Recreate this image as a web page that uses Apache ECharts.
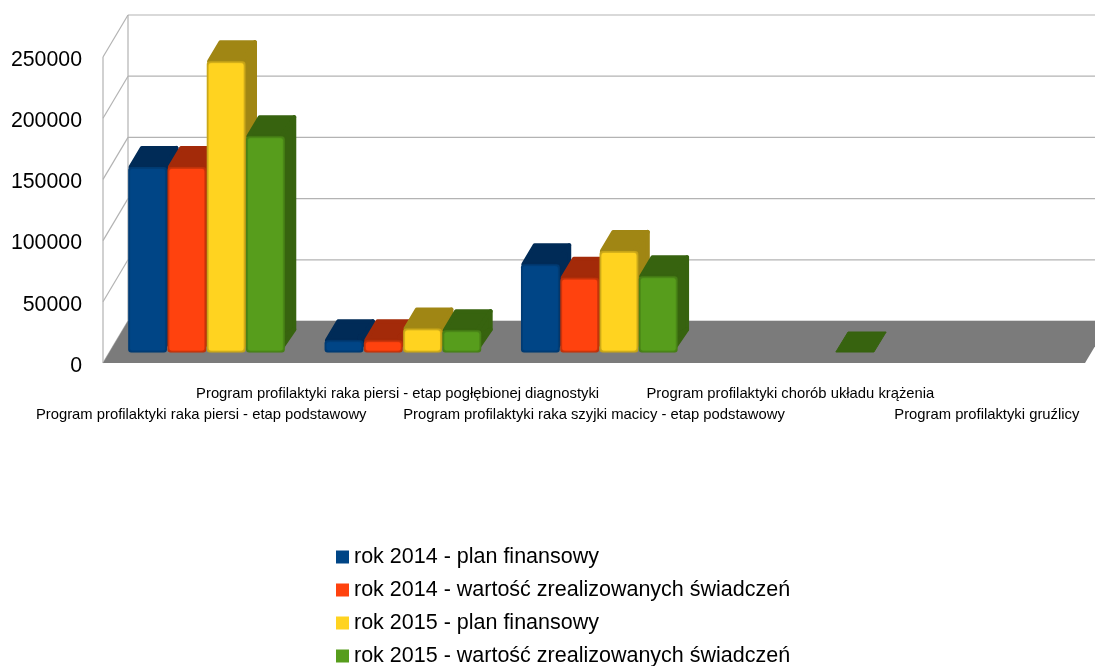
<!DOCTYPE html>
<html>
<head>
<meta charset="utf-8">
<style>html,body{margin:0;padding:0;background:#fff}#c{width:1095px;height:666px}</style>
<script src="https://cdn.jsdelivr.net/npm/echarts@6/dist/echarts.min.js"></script>
</head>
<body>
<div id="c"></div>
<script>
const categories = [
  'Program profilaktyki raka piersi - etap podstawowy',
  'Program profilaktyki raka piersi - etap pogłębionej diagnostyki',
  'Program profilaktyki raka szyjki macicy - etap podstawowy',
  'Program profilaktyki chorób układu krążenia',
  'Program profilaktyki gruźlicy'
];
const seriesNames = [
  'rok 2014 - plan finansowy',
  'rok 2014 - wartość zrealizowanych świadczeń',
  'rok 2015 - plan finansowy',
  'rok 2015 - wartość zrealizowanych świadczeń'
];
const plan2014 = [151600, 10000, 72100, null, null];
const real2014 = [151600, 10000, 61000, null, null];
const plan2015 = [238000, 19600, 83000, null, null];
const real2015 = [176700, 18200, 62300, 0, null];
const yTicks = [0, 50000, 100000, 150000, 200000, 250000];

const values = [plan2014, real2014, plan2015, real2015];
const frontColors = ['#004586', '#ff420e', '#ffd320', '#579d1c'];
const edgeColors  = ['#003a70', '#b8300a', '#bf9e18', '#457c16'];
const darkColors  = ['#002b57', '#a32a09', '#a08614', '#37630f'];

const DX = 25, DY = 42;            // wall/floor depth offset
const LINE = '#b3b3b3', FLOOR = '#7b7b7b';

function chamber(params, api) {
  const cs = params.coordSys, v = api.value(0);
  const y = api.coord([0, v])[1];
  const L = cs.x, R = cs.x + cs.width;
  const kids = [];
  const ln = (x1, y1, x2, y2) => ({type: 'line', shape: {x1, y1, x2, y2},
    style: {stroke: LINE, lineWidth: 1.2, fill: null}, silent: true});
  kids.push(ln(L + DX, y - DY, R + DX, y - DY));
  kids.push(ln(L, y, L + DX, y - DY));
  if (v === 0) {
    kids.push(ln(L, cs.y, L, y));
    kids.push(ln(L + DX, cs.y - DY, L + DX, y - DY));
    kids.push({type: 'polygon', silent: true,
      shape: {points: [[L, y], [R, y], [R + DX, y - DY], [L + DX, y - DY]]},
      style: {fill: FLOOR}});
  }
  return {type: 'group', children: kids};
}

function bar3d(s) {
  return function (params, api) {
    const v = api.value(1);
    if (isNaN(v)) return null;
    const idx = api.value(0);
    const band = api.size([1, 0])[0];
    const w = band / 5;
    const left = api.coord([idx, 0])[0] - band / 2 + DX / 4 + w / 2 + s * w - 0.7;
    const base = api.coord([idx, 0])[1] - DY / 4;
    const top = api.coord([idx, v])[1] - DY / 4;
    const dx = DX / 2, dy = DY / 2, right = left + w;
    const dark = darkColors[s];
    const flat = base - top <= 1;
    const ins = flat ? 0.5 : 2;
    const sl = ins * 1.17;       // horizontal inset along the slanted edge
    const poly = pts => ({type: 'polygon', silent: true, shape: {points: pts},
      style: {fill: dark, stroke: dark, lineWidth: ins * 2, lineJoin: 'round'}});
    const kids = [];
    const slope = (dy - ins) * dx / dy;
    kids.push(poly([[left + sl, flat ? top - ins : top], [right - sl, flat ? top - ins : top],
      [right - sl + slope, top - dy + ins], [left + sl + slope, top - dy + ins]]));
    if (!flat) {
      kids.push(poly([[right - 4, top], [right - sl + slope, top - dy + ins],
        [right - sl + slope, base - dy - ins], [right - 4, base - dy + 5]]));
      kids.push(poly([[right - 4, base - dy + 5], [right - sl + slope, base - dy - ins], [right - 4, base - 4]]));
      kids.push({type: 'rect', silent: true, shape: {x: left, y: top, width: w - 0.5, height: base - top, r: 3},
        style: {fill: edgeColors[s]}});
      kids.push({type: 'rect', silent: true, shape: {x: left + 2, y: top + 2, width: w - 4.5, height: base - top - 4, r: 2},
        style: {fill: frontColors[s], shadowBlur: 3, shadowColor: frontColors[s]}});
    }
    return {type: 'group', children: kids};
  };
}

const chart = echarts.init(document.getElementById('c'), null, {renderer: 'canvas'});
chart.setOption({
  animation: false,
  backgroundColor: '#fff',
  textStyle: {fontFamily: 'Liberation Sans'},
  grid: {left: 103, right: 10, top: 57, bottom: 303, containLabel: false},
  legend: {
    data: seriesNames, orient: 'vertical', left: 336, top: 546, height: 132, padding: 0,
    icon: 'rect', itemWidth: 13, itemHeight: 13, itemGap: 11, selectedMode: false,
    textStyle: {fontFamily: 'Liberation Sans', fontSize: 21.5, color: '#000', lineHeight: 22}
  },
  xAxis: {
    type: 'category', data: categories,
    axisLine: {show: false}, axisTick: {show: false}, splitLine: {show: false},
    axisLabel: {
      interval: 0, hideOverlap: false, margin: 20, fontSize: 14.8, color: '#000',
      fontFamily: 'Liberation Sans', lineHeight: 21, verticalAlign: 'top',
      formatter: (t, i) => (i % 2 === 0 ? '\n' + t : t)
    }
  },
  yAxis: {
    type: 'value', min: 0, max: 250000, interval: 50000,
    axisLine: {show: false}, axisTick: {show: false}, splitLine: {show: false},
    axisLabel: {margin: 21, fontSize: 21.3, color: '#000', fontFamily: 'Liberation Sans',
      verticalAlign: 'top', lineHeight: 6, formatter: v => String(v)}
  },
  series: [
    {type: 'custom', name: 'chamber', coordinateSystem: 'cartesian2d', silent: true, z: 1,
     renderItem: chamber, data: yTicks.slice().reverse().map(v => [v]), encode: {y: 0}, clip: false}
  ].concat(seriesNames.map((name, s) => ({
    type: 'custom', name, coordinateSystem: 'cartesian2d', z: 2 + s, silent: true, clip: false,
    itemStyle: {color: frontColors[s]},
    renderItem: bar3d(s),
    encode: {x: 0, y: 1},
    data: values[s].map((v, i) => [i, v])
  })))
});
</script>
</body>
</html>
